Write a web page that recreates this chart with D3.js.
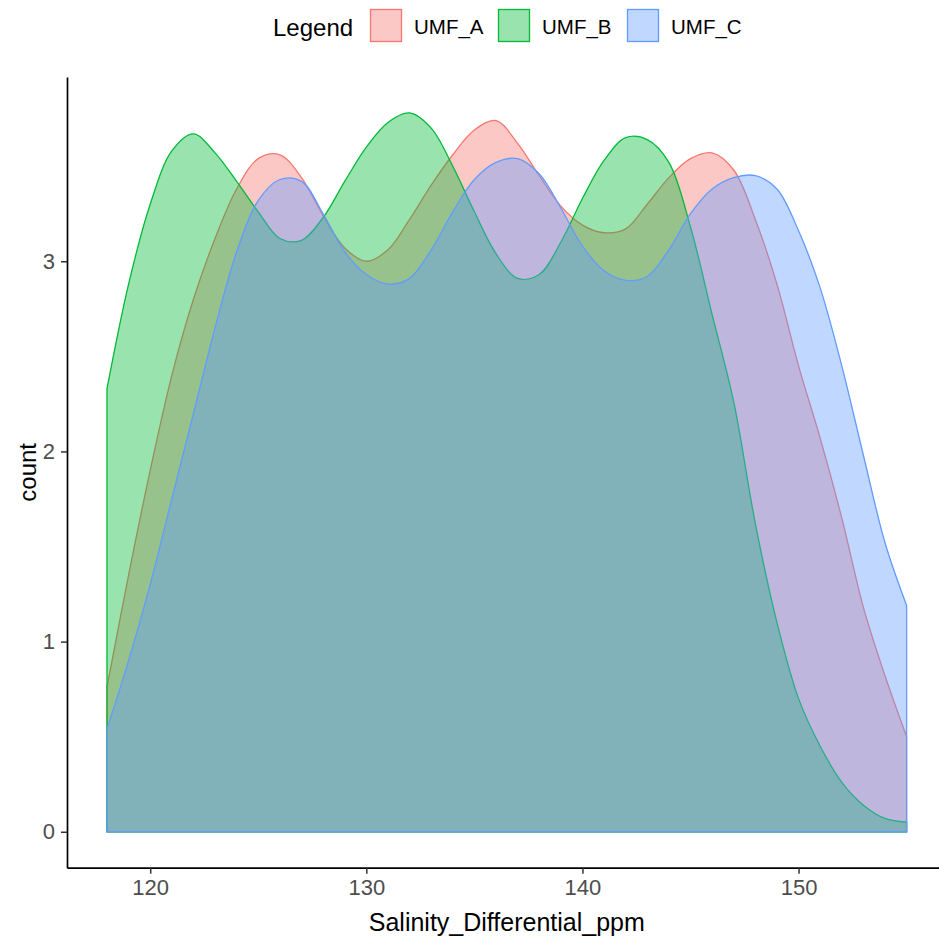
<!DOCTYPE html>
<html>
<head>
<meta charset="utf-8">
<script src="https://cdn.jsdelivr.net/npm/d3@7"></script>
<style>
  body { margin: 0; background: #fff; }
  text { font-family: "Liberation Sans", Arial, sans-serif; }
</style>
</head>
<body>
<div id="chart"></div>
<script>
// sample positions along Salinity_Differential_ppm
var salinity = [118, 119, 120, 121, 122, 123, 124, 125, 126, 127, 128, 129, 130, 131, 132, 133, 134, 135, 136,
  137, 138, 139, 140, 141, 142, 143, 144, 145, 146, 147, 148, 149, 150, 151, 152, 153, 154, 155];

// density counts
var umfA = [0.76, 1.35, 1.90, 2.40, 2.80, 3.12, 3.38, 3.54, 3.56, 3.44, 3.24, 3.07, 3.00, 3.06, 3.22, 3.40, 3.56, 3.69, 3.74,
  3.62, 3.45, 3.29, 3.19, 3.15, 3.17, 3.30, 3.44, 3.54, 3.57, 3.48, 3.22, 2.88, 2.45, 2.07, 1.65, 1.18, 0.82, 0.50];
var umfB = [2.33, 2.88, 3.30, 3.58, 3.67, 3.57, 3.42, 3.26, 3.12, 3.11, 3.23, 3.42, 3.60, 3.73, 3.78, 3.70, 3.50, 3.26, 3.04,
  2.91, 2.93, 3.10, 3.33, 3.53, 3.65, 3.64, 3.52, 3.18, 2.72, 2.26, 1.62, 1.10, 0.70, 0.45, 0.26, 0.14, 0.07, 0.05];
var umfC = [0.54, 0.90, 1.30, 1.75, 2.20, 2.65, 3.05, 3.32, 3.43, 3.42, 3.25, 3.05, 2.93, 2.88, 2.91, 3.06, 3.26, 3.43, 3.52,
  3.54, 3.46, 3.28, 3.08, 2.95, 2.90, 2.92, 3.06, 3.25, 3.38, 3.44, 3.45, 3.38, 3.16, 2.86, 2.45, 1.98, 1.52, 1.19];

var groups = ["UMF_A", "UMF_B", "UMF_C"];
var colors = ["#F8766D", "#00BA38", "#619CFF"];
var xTicks = [120, 130, 140, 150];
var yTicks = [0, 1, 2, 3];

var series = [umfA, umfB, umfC];

var width = 939, height = 937;
var panel = {left: 67, right: 946.6, top: 77, bottom: 867.7};

var svg = d3.select("#chart").append("svg")
  .attr("width", width)
  .attr("height", height);

// ggplot style 5% expansion
var xExt = d3.extent(salinity), xPad = (xExt[1] - xExt[0]) * 0.05;
var x = d3.scaleLinear()
  .domain([xExt[0] - xPad, xExt[1] + xPad])
  .range([panel.left, panel.right]);

var yMax = d3.max(series, function (s) { return d3.max(s); });
var y = d3.scaleLinear()
  .domain([-yMax * 0.05, yMax * 1.05])
  .range([panel.bottom, panel.top]);

var area = d3.area()
  .x(function (d, i) { return x(salinity[i]); })
  .y0(y(0))
  .y1(function (d) { return y(d); })
  .curve(d3.curveCatmullRom.alpha(0.5));

svg.append("g").selectAll("path")
  .data(series)
  .enter().append("path")
  .attr("d", area)
  .attr("fill", function (d, i) { return colors[i]; })
  .attr("fill-opacity", 0.4)
  .attr("stroke", function (d, i) { return colors[i]; })
  .attr("stroke-width", 1.3);

// axes
var xAxis = svg.append("g")
  .attr("transform", "translate(0," + panel.bottom + ")")
  .call(d3.axisBottom(x).tickValues(xTicks).tickSize(6).tickSizeOuter(0).tickPadding(6)
    .tickFormat(d3.format("d")));

var yAxis = svg.append("g")
  .attr("transform", "translate(" + panel.left + ",0)")
  .call(d3.axisLeft(y).tickValues(yTicks).tickSize(6).tickSizeOuter(0).tickPadding(6)
    .tickFormat(d3.format("d")));

[xAxis, yAxis].forEach(function (a) {
  a.select(".domain").attr("stroke", "#000").attr("stroke-width", 1.7);
  a.selectAll(".tick line").attr("stroke", "#333").attr("stroke-width", 1.5);
  a.selectAll(".tick text")
    .attr("fill", "#4d4d4d")
    .style("font-size", "22px");
});

svg.append("text")
  .attr("x", (panel.left + panel.right) / 2)
  .attr("y", 931)
  .attr("text-anchor", "middle")
  .style("font-size", "25px")
  .text("Salinity_Differential_ppm");

svg.append("text")
  .attr("transform", "translate(36," + ((panel.top + panel.bottom) / 2) + ") rotate(-90)")
  .attr("text-anchor", "middle")
  .style("font-size", "24px")
  .text("count");

// legend on top
var legend = svg.append("g");
legend.append("text")
  .attr("x", 273)
  .attr("y", 36)
  .style("font-size", "24px")
  .text("Legend");

var keyX = [370, 498, 627];
groups.forEach(function (g, i) {
  legend.append("rect")
    .attr("x", keyX[i] + 0.5)
    .attr("y", 9.5)
    .attr("width", 31)
    .attr("height", 32)
    .attr("fill", colors[i])
    .attr("fill-opacity", 0.4)
    .attr("stroke", colors[i])
    .attr("stroke-width", 1.3);
  legend.append("text")
    .attr("x", keyX[i] + 44)
    .attr("y", 34)
    .style("font-size", "20.5px")
    .text(g);
});
</script>
</body>
</html>
